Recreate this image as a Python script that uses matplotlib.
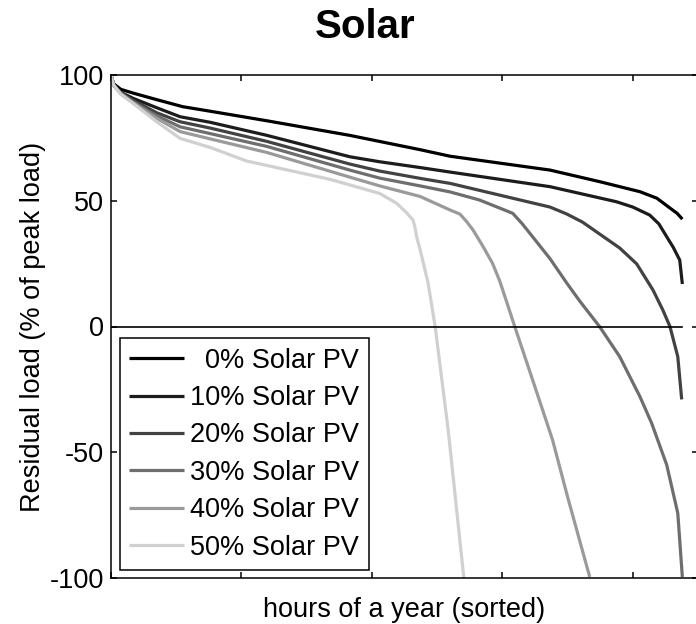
import matplotlib
matplotlib.use("Agg")
import matplotlib.pyplot as plt

plt.rcParams['font.family'] = ['Liberation Sans', 'DejaVu Sans']
plt.rcParams['axes.unicode_minus'] = False

labels = ["  0% Solar PV", "10% Solar PV", "20% Solar PV",
          "30% Solar PV", "40% Solar PV", "50% Solar PV"]
colors = ["#000000", "#1c1c1c", "#424242", "#6e6e6e", "#9a9a9a", "#d0d0d0"]

h0 = [0, 40, 150, 340, 700, 1100, 1520, 2390, 3660, 4740, 5200, 6730, 7490, 8110,
      8370, 8570, 8680, 8760]
v0 = [100, 96.5, 94.3, 92.8, 90.2, 87.4, 85.6, 81.8, 76.0, 70.3, 67.7, 62.2, 57.6, 53.6,
      51.0, 47.1, 45.0, 42.7]

h10 = [0, 40, 150, 340, 700, 1060, 1520, 2390, 3660, 4120, 4740, 5200, 6730, 7750,
       8000, 8260, 8400, 8520, 8620, 8720, 8760]
v10 = [100, 96, 93.1, 90.7, 87.0, 83.4, 81.2, 76.0, 67.5, 65.5, 63.2, 61.4, 55.6, 49.6,
       47.5, 44.3, 40.8, 35.7, 31.5, 26.4, 16.9]

h20 = [0, 40, 150, 340, 700, 1060, 1520, 2390, 3660, 4120, 4740, 5200, 6160, 6730,
       6990, 7230, 7490, 7800, 8060, 8310, 8460, 8570, 8690, 8750]
v20 = [100, 96, 92.8, 89.9, 85.0, 81.4, 78.9, 73.6, 64.6, 61.8, 58.9, 56.9, 51.0, 47.5,
       44.7, 41.5, 36.8, 31.2, 24.9, 14.5, 6.6, 0.0, -12.0, -29.0]

h30 = [0, 40, 150, 340, 700, 1060, 1520, 2390, 3660, 4120, 4740, 5200, 5650, 6160,
       6300, 6470, 6730, 6990, 7190, 7490, 7800, 8110, 8290, 8520, 8690, 8760]
v30 = [100, 96, 92.8, 89.3, 83.8, 79.4, 76.7, 71.6, 62.2, 59.0, 55.9, 53.5, 50.3, 45.0,
       41.0, 35.5, 27.0, 17.2, 10.0, 0.0, -12.0, -27.9, -38.5, -55.0, -74.2, -99.6]

h40 = [0, 40, 150, 340, 700, 1060, 1520, 2390, 3660, 4120, 4740, 5200, 5350, 5450,
       5550, 5700, 5850, 5960, 6070, 6190, 6500, 6770, 7000, 7340]
v40 = [100, 96, 92.6, 88.9, 82.8, 77.5, 74.6, 69.2, 59.4, 55.9, 51.7, 46.3, 44.7, 41.8,
       38.4, 32.0, 25.1, 18.1, 9.5, 0.0, -24.0, -45.1, -67.7, -99.6]

h50 = [0, 40, 150, 340, 700, 1060, 1520, 2080, 3360, 4120, 4380, 4540, 4580, 4630,
       4660, 4690, 4740, 4860, 4970, 5170, 5410]
v50 = [100, 96, 92.3, 88.7, 81.4, 74.8, 71.2, 65.8, 58.5, 52.9, 49.0, 45.0, 43.8, 42.3,
       39.5, 35.2, 30.5, 17.5, 0.0, -41.2, -100.0]

series = [(h0, v0), (h10, v10), (h20, v20), (h30, v30), (h40, v40), (h50, v50)]

W, H = 696, 624
fig = plt.figure(figsize=(W / 100, H / 100), dpi=100)
ax = fig.add_axes([111 / W, (H - 578) / H, 587 / W, 503 / H])

handles = []
for (hx, vy), c, lab in zip(series, colors, labels):
    ln, = ax.plot(hx, vy, color=c, lw=2.3, label=lab, solid_capstyle='butt',
                  solid_joinstyle='round')
    handles.append(ln)

ax.plot([0, 8760], [0, 0], color='black', lw=1.2)

ax.set_xlim(0, 9000)
ax.set_ylim(-100, 100)
ax.set_xticks([0, 2000, 4000, 6000, 8000])
ax.set_xticklabels([])
ax.set_yticks([-100, -50, 0, 50, 100])
ax.tick_params(direction='in', length=4, width=1.1, top=True, right=True,
               labelsize=19.5, pad=5)
for s in ax.spines.values():
    s.set_linewidth(1.1)

ax.set_xlabel("hours of a year (sorted)", fontsize=19.5, labelpad=9)
ax.set_ylabel("Residual load (% of peak load)", fontsize=19.5, labelpad=3)

fig.text(365 / W, 1 - 27 / H, "Solar", fontsize=29, fontweight='bold',
         ha='center', va='center')

leg = ax.legend(handles=handles, loc='lower left',
                bbox_to_anchor=(9 / 587, 8 / 503), borderaxespad=0,
                fontsize=19.5, frameon=True, fancybox=False, framealpha=1,
                edgecolor='black', labelspacing=0.42, handlelength=2.0,
                handletextpad=0.25, borderpad=0.35)
leg.get_frame().set_linewidth(1.1)

fig.savefig("out.png", dpi=100)
